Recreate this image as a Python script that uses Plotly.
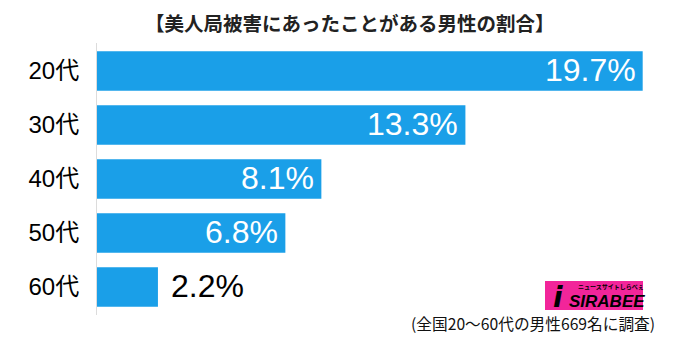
import plotly.graph_objects as go

categories = ["20代", "30代", "40代", "50代", "60代"]
values = [19.7, 13.3, 8.1, 6.8, 2.2]
value_labels = ["19.7%", "13.3%", "8.1%", "6.8%", "2.2%"]

title_text = "【美人局被害にあったことがある男性の割合】"
note_text = "(全国20〜60代の男性669名に調査)"

BAR_COLOR = "#1a9fe8"
W, H = 700, 337
ML, MR, MT, MB = 97, 20, 43, 22
PW = W - ML - MR
PH = H - MT - MB

fig = go.Figure()
fig.add_trace(go.Bar(
    x=values, y=categories, orientation="h",
    marker=dict(color=BAR_COLOR, line=dict(width=0)),
    width=0.73, hoverinfo="skip",
))

FONT = "Liberation Sans, Arial, Noto Sans CJK JP, sans-serif"
for cat, v, lab in zip(categories, values, value_labels):
    inside = v > 5
    fig.add_annotation(
        x=v, y=cat, xref="x", yref="y", text=lab, showarrow=False,
        xanchor="right" if inside else "left",
        xshift=-5 if inside else 11, yshift=1,
        font=dict(family=FONT, size=32, color="white" if inside else "black"),
    )

def px_to_paper_x(px):
    return (px - ML) / PW

def px_to_paper_y(py):
    return (H - MB - py) / PH

# title
fig.add_annotation(
    x=px_to_paper_x(350), y=px_to_paper_y(22), xref="paper", yref="paper",
    text="<b>" + title_text + "</b>", showarrow=False,
    xanchor="center", yanchor="middle",
    font=dict(family="Noto Sans CJK JP, sans-serif", size=19.5, color="#222"),
)
# footnote
fig.add_annotation(
    x=px_to_paper_x(657), y=px_to_paper_y(323), xref="paper", yref="paper",
    text=note_text, showarrow=False, xanchor="right", yanchor="middle",
    font=dict(family="Noto Sans CJK JP, sans-serif", size=15.7, color="#111"),
)
# logo
fig.add_shape(
    type="rect", xref="paper", yref="paper",
    x0=px_to_paper_x(545), x1=px_to_paper_x(643),
    y0=px_to_paper_y(310), y1=px_to_paper_y(281),
    fillcolor="#f2259a", line=dict(width=0), layer="above",
)
fig.add_annotation(
    x=px_to_paper_x(558), y=px_to_paper_y(297), xref="paper", yref="paper",
    text="<b><i>i</i></b>", showarrow=False, xanchor="center", yanchor="middle",
    font=dict(family="DejaVu Sans", size=28, color="black"),
)
fig.add_annotation(
    x=px_to_paper_x(607), y=px_to_paper_y(301), xref="paper", yref="paper",
    text="<b><i>SIRABEE</i></b>", showarrow=False, xanchor="center", yanchor="middle",
    font=dict(family="Liberation Sans Narrow, Liberation Sans, sans-serif", size=17, color="black"),
)
fig.add_annotation(
    x=px_to_paper_x(611), y=px_to_paper_y(286.5), xref="paper", yref="paper",
    text="<b>ニュースサイトしらべぇ</b>", showarrow=False, xanchor="center", yanchor="middle",
    font=dict(family="Noto Sans CJK JP", size=6, color="black"),
)

fig.update_layout(
    width=W, height=H,
    margin=dict(l=ML, r=MR, t=MT, b=MB, pad=0),
    paper_bgcolor="white", plot_bgcolor="white",
    showlegend=False,
    xaxis=dict(range=[0, PW / 27.7], visible=False, fixedrange=True),
    yaxis=dict(
        range=[4.52, -0.52], showgrid=False, zeroline=False,
        showline=True, linecolor="#dcdcdc", linewidth=1,
        ticks="", ticklabelstandoff=12,
        tickfont=dict(family="Liberation Sans, Noto Sans CJK JP, sans-serif", size=24, color="black"),
        fixedrange=True,
    ),
)

fig.write_html("out.html", config={"displayModeBar": False})
